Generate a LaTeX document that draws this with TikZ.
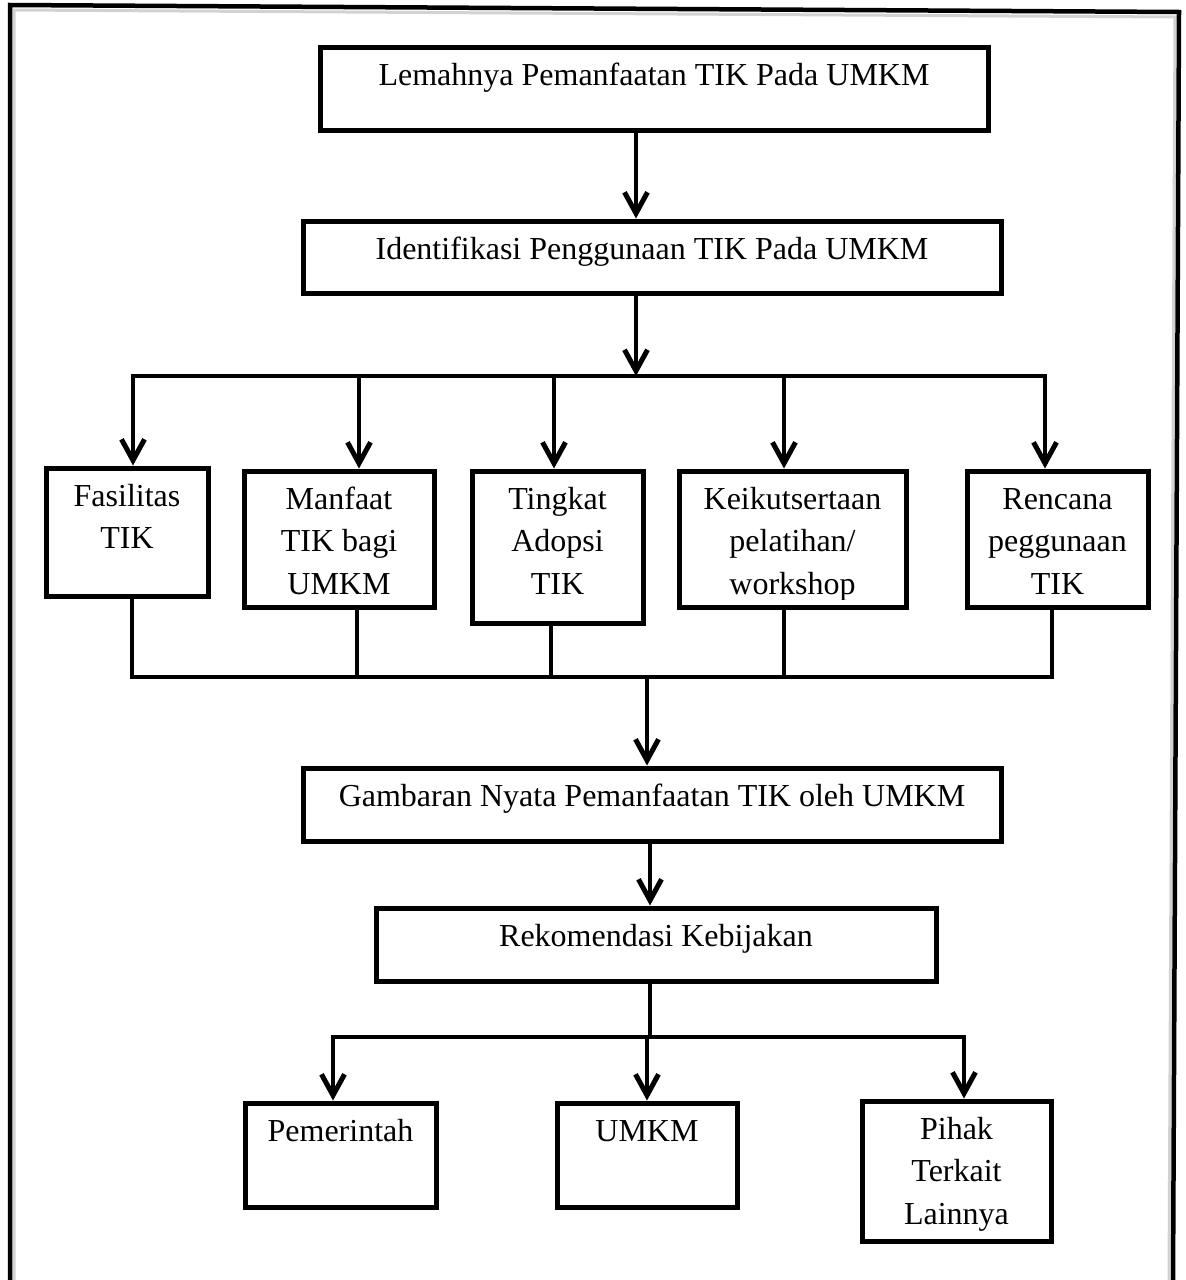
\documentclass[tikz,border=0pt]{standalone}
\usepackage{fontspec}
\setmainfont{Liberation Serif}
\usetikzlibrary{arrows.meta,positioning}
\begin{document}
\begin{tikzpicture}[x=1pt,y=-1pt,
  box/.style={draw, line width=5pt, inner sep=0pt, rectangle},
  txt/.style={font=\fontsize{32}{42.5}\selectfont, align=center, inner sep=0pt},
  arr/.style={line width=4.8pt, -{Straight Barb[length=21pt,width=23pt,line width=5pt]}},
  ln/.style={line width=4.8pt, line cap=rect},
  framestyle/.style={line width=4.5pt},
  shadowstyle/.style={line width=3pt, gray!35}]
\useasboundingbox (0,0) rectangle (1186,1280);
% page frame
\draw[shadowstyle] (14,1282) -- (14,10) -- (1175,17) -- (1169,1282);
\draw[framestyle] (10,1284) -- (10,5) -- (1179,12) -- (1173,1284);

% boxes
\node[box, minimum width=668pt, minimum height=83pt] (b1) at (654,88.5) {};
\node[box, minimum width=698pt, minimum height=72pt] (b2) at (652,257) {};
\node[box, minimum width=162pt, minimum height=128pt] (f1) at (127,532) {};
\node[box, minimum width=190pt, minimum height=136pt] (f2) at (339,539) {};
\node[box, minimum width=171pt, minimum height=152pt] (f3) at (557.5,547) {};
\node[box, minimum width=227pt, minimum height=136pt] (f4) at (792.5,539) {};
\node[box, minimum width=181pt, minimum height=136pt] (f5) at (1057.5,539) {};
\node[box, minimum width=698pt, minimum height=73pt] (g) at (652,804.5) {};
\node[box, minimum width=560pt, minimum height=73pt] (r) at (656,944.5) {};
\node[box, minimum width=191pt, minimum height=104pt] (p1) at (340.5,1155) {};
\node[box, minimum width=180pt, minimum height=104pt] (p2) at (647,1155) {};
\node[box, minimum width=189pt, minimum height=140pt] (p3) at (956.5,1171) {};

% texts
\node[txt, below=11pt of b1.north] (t1) {\strut Lemahnya Pemanfaatan TIK Pada UMKM};
\node[txt, below=11pt of b2.north] (t2) {\strut Identifikasi Penggunaan TIK Pada UMKM};
\node[txt, below=11pt of f1.north] (t3) {\strut Fasilitas\\TIK};
\node[txt, below=11pt of f2.north] (t4) {\strut Manfaat\\TIK bagi\\UMKM};
\node[txt, below=11pt of f3.north] (t5) {\strut Tingkat\\Adopsi\\TIK};
\begin{scope}
  \clip (f4.north west) rectangle ([yshift=10pt]f4.south east);
  \node[txt, below=11pt of f4.north] (t6) {\strut Keikutsertaan\\pelatihan/\\workshop};
\end{scope}
\node[txt, below=11pt of f5.north] (t7) {\strut Rencana\\peggunaan\\TIK};
\node[txt, below=11pt of g.north] (t8) {\strut Gambaran Nyata Pemanfaatan TIK oleh UMKM};
\node[txt, below=11pt of r.north] (t9) {\strut Rekomendasi Kebijakan};
\node[txt, below=11pt of p1.north] (t10) {\strut Pemerintah};
\node[txt, below=11pt of p2.north] (t11) {\strut UMKM};
\node[txt, below=11pt of p3.north] (t12) {\strut Pihak\\Terkait\\Lainnya};

% connector coordinates
\coordinate (c1) at (636,0);
\coordinate (s0) at (636,376);
\coordinate (s1) at (133,376);
\coordinate (s2) at (359,376);
\coordinate (s3) at (554,376);
\coordinate (s4) at (784,376);
\coordinate (s5) at (1045,376);
\coordinate (m1) at (132,677);
\coordinate (m2) at (357,677);
\coordinate (m3) at (551,677);
\coordinate (m4) at (784,677);
\coordinate (m5) at (1052,677);
\coordinate (m0) at (647,677);
\coordinate (c2) at (650,0);
\coordinate (q0) at (650,1037);
\coordinate (q1) at (333,1037);
\coordinate (q2) at (647,1037);
\coordinate (q3) at (964,1037);

% top arrows
\draw[arr] (b1.south -| c1) -- (b2.north -| c1);
\draw[arr] (b2.south -| s0) -- (s0);
\draw[ln] (s1) -- (s5);
\draw[arr] (s1) -- (s1 |- f1.north);
\draw[arr] (s2) -- (s2 |- f2.north);
\draw[arr] (s3) -- (s3 |- f3.north);
\draw[arr] (s4) -- (s4 |- f4.north);
\draw[arr] (s5) -- (s5 |- f5.north);

% lower bus
\draw[ln] (m1 |- f1.south) -- (m1) -- (m5) -- (m5 |- f5.south);
\draw[ln] (m2 |- f2.south) -- (m2);
\draw[ln] (m3 |- f3.south) -- (m3);
\draw[ln] (m4 |- f4.south) -- (m4);
\draw[arr] (m0) -- (m0 |- g.north);
\draw[arr] (g.south -| c2) -- (r.north -| c2);

% bottom bus
\draw[ln] (r.south -| q0) -- (q0);
\draw[ln] (q1) -- (q3);
\draw[arr] (q1) -- (q1 |- p1.north);
\draw[arr] (q2) -- (q2 |- p2.north);
\draw[arr] (q3) -- (q3 |- p3.north);
\end{tikzpicture}
\end{document}
